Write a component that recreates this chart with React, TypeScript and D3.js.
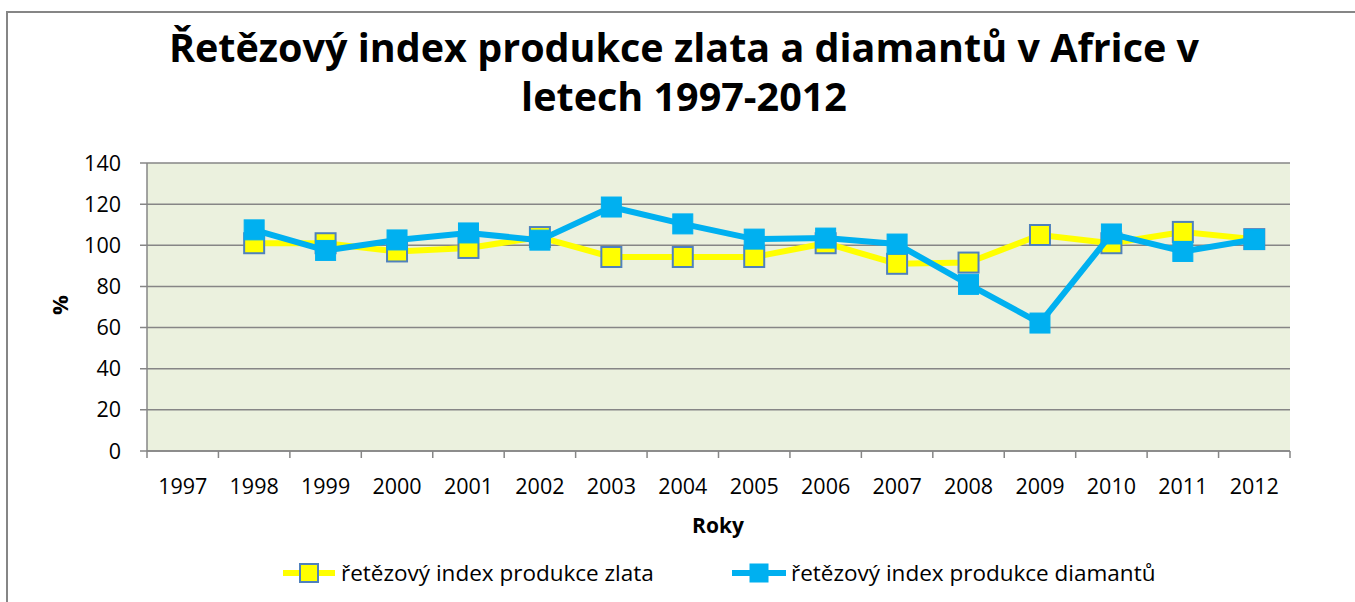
import { useMemo } from 'react'
import * as d3 from 'd3'

// category labels on the x axis
const years = ['1997', '1998', '1999', '2000', '2001', '2002', '2003', '2004', '2005', '2006', '2007', '2008', '2009', '2010', '2011', '2012']

// chain index values, starting 1998 (1997 has no value)
const goldYears = ['1998', '1999', '2000', '2001', '2002', '2003', '2004', '2005', '2006', '2007', '2008', '2009', '2010', '2011', '2012']
const goldValues = [101, 101, 97, 98.7, 104, 94.3, 94.3, 94.3, 101, 91, 91.6, 105, 101, 106.5, 103]
const diamondValues = [107.5, 97.5, 102.6, 106, 102.5, 118.6, 110.4, 103, 103.5, 100.6, 81, 62.2, 105.5, 97, 102.8]

const yTicks = [0, 20, 40, 60, 80, 100, 120, 140]

const seriesNames = ['řetězový index produkce zlata', 'řetězový index produkce diamantů']

const FONT = '"Open Sans", Lato, sans-serif'

export default function App() {
  const W = 1355
  const H = 602
  const plot = { left: 147, right: 1290, top: 163, bottom: 451 }

  const x = useMemo(() => d3.scaleBand().domain(years).range([plot.left, plot.right]).paddingInner(0).paddingOuter(0), [])
  const y = useMemo(() => d3.scaleLinear().domain([0, 140]).range([plot.bottom, plot.top]), [])
  const cx = (yr: string) => (x(yr) ?? 0) + x.bandwidth() / 2

  const line = d3.line<number>()
    .x((_, i) => cx(goldYears[i]))
    .y(d => y(d))

  const gold = '#FFFF00'
  const goldEdge = '#4F81BD'
  const blue = '#00B0F0'
  const grid = '#868686'
  const mk = 20

  // tick boundaries between categories
  const boundaries = years.map(yr => x(yr) ?? 0).concat([plot.right])

  return (
    <svg width={W} height={H} style={{ position: 'absolute', left: 0, top: 0, background: '#fff' }} fontFamily={FONT}>
      {/* outer chart frame */}
      <rect x={7} y={12} width={W + 10} height={H + 10} fill="#fff" stroke={grid} strokeWidth={2} />

      {/* title */}
      <text x={684} y={62} textAnchor="middle" fontSize={39.5} fontWeight="bold" fill="#000">
        Řetězový index produkce zlata a diamantů v Africe v
      </text>
      <text x={684} y={111} textAnchor="middle" fontSize={39.5} fontWeight="bold" fill="#000">
        letech 1997-2012
      </text>

      {/* plot background */}
      <rect x={plot.left} y={plot.top} width={plot.right - plot.left} height={plot.bottom - plot.top} fill="#EBF1DE" />

      {/* gridlines + y ticks */}
      {yTicks.map(t => (
        <g key={t}>
          <line x1={plot.left - 7} x2={plot.right} y1={y(t)} y2={y(t)} stroke={grid} strokeWidth={1.5} />
          <text x={121} y={y(t)} dy="0.35em" textAnchor="end" fontSize={21.5} fill="#000">{t}</text>
        </g>
      ))}

      {/* y axis */}
      <line x1={plot.left} x2={plot.left} y1={plot.top} y2={plot.bottom} stroke={grid} strokeWidth={1.5} />
      {/* x axis */}
      <line x1={plot.left} x2={plot.right} y1={plot.bottom} y2={plot.bottom} stroke={grid} strokeWidth={1.5} />
      {boundaries.map((b, i) => (
        <line key={i} x1={b} x2={b} y1={plot.bottom} y2={plot.bottom + 7} stroke={grid} strokeWidth={1.5} />
      ))}
      {years.map(yr => (
        <text key={yr} x={cx(yr)} y={494} textAnchor="middle" fontSize={21.5} fill="#000">{yr}</text>
      ))}

      {/* axis titles */}
      <text x={718} y={533} textAnchor="middle" fontSize={21} fontWeight="bold" fill="#000">Roky</text>
      <text transform="translate(68,305) rotate(-90)" textAnchor="middle" fontSize={22} fontWeight="bold" fill="#000">%</text>

      {/* gold series */}
      <path d={line(goldValues) ?? ''} fill="none" stroke={gold} strokeWidth={6} strokeLinejoin="round" />
      {goldValues.map((v, i) => (
        <rect key={i} x={cx(goldYears[i]) - mk / 2} y={y(v) - mk / 2} width={mk} height={mk} fill={gold} stroke={goldEdge} strokeWidth={2} />
      ))}

      {/* diamond series */}
      <path d={line(diamondValues) ?? ''} fill="none" stroke={blue} strokeWidth={6} strokeLinejoin="round" />
      {diamondValues.map((v, i) => (
        <rect key={i} x={cx(goldYears[i]) - mk / 2} y={y(v) - mk / 2} width={mk} height={mk} fill={blue} stroke={blue} strokeWidth={1} />
      ))}

      {/* legend */}
      <g>
        <line x1={283} x2={335} y1={573} y2={573} stroke={gold} strokeWidth={6} />
        <rect x={309 - 9} y={573 - 9} width={18} height={18} fill={gold} stroke={goldEdge} strokeWidth={2} />
        <text x={341} y={573} dy="0.35em" fontSize={22.5} fill="#000">{seriesNames[0]}</text>

        <line x1={732} x2={786} y1={573} y2={573} stroke={blue} strokeWidth={6} />
        <rect x={759 - 9} y={573 - 9} width={18} height={18} fill={blue} stroke={blue} strokeWidth={1} />
        <text x={791} y={573} dy="0.35em" fontSize={22.5} fill="#000">{seriesNames[1]}</text>
      </g>
    </svg>
  )
}
